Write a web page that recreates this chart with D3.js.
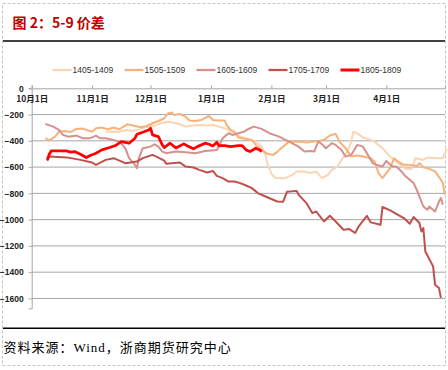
<!DOCTYPE html>
<html><head><meta charset="utf-8">
<script src="https://cdn.jsdelivr.net/npm/d3@7"></script>
<style>body{margin:0;background:#fff}svg{display:block}</style>
</head><body>
<script>
// ---- data ----
const title = "图 2：5-9 价差";
const source = "资料来源：Wind，浙商期货研究中心";
const seriesNames = ["1405-1409","1505-1509","1605-1609","1705-1709","1805-1809"];
const seriesColors = ["#fbd4b4","#f7b27c","#d8908d","#c0504d","#ff0000"];
const yTicks = [0,-200,-400,-600,-800,-1000,-1200,-1400,-1600];
const xTickDates = ["10-01","11-01","12-01","01-01","02-01","03-01","04-01"];
const xTickLabels = ["10月1日","11月1日","12月1日","1月1日","2月1日","3月1日","4月1日"];

const dates1405 = ["11-08","11-12","11-15","11-19","11-22","11-26","11-29","12-03","12-06","12-10","12-12","12-16","12-19","12-23","12-26","12-30","01-02","01-05","01-08","01-10","01-13","01-16","01-19","01-21","01-24","01-27","01-29","01-30","02-01","02-03","02-08","02-12","02-14","02-18","02-21","02-24","02-27","03-02","03-04","03-07","03-09","03-12","03-14","03-15","03-17","03-20","03-23","03-26","03-30","04-02","04-06","04-09","04-11","04-14","04-16","04-20","04-22","04-27","04-30","05-02"];
const vals1405 = [-330,-328,-330,-317,-325,-309,-292,-284,-266,-254,-258,-274,-292,-284,-279,-284,-279,-292,-304,-317,-342,-368,-378,-393,-406,-444,-507,-575,-651,-682,-684,-659,-634,-634,-646,-634,-684,-659,-621,-596,-545,-482,-406,-330,-342,-374,-388,-406,-456,-507,-558,-591,-615,-613,-532,-545,-527,-532,-532,-461];

const dates1505 = ["10-08","10-10","10-13","10-15","10-18","10-21","10-24","10-27","10-29","11-01","11-03","11-06","11-09","11-12","11-15","11-19","11-23","11-26","11-29","12-02","12-05","12-08","12-10","12-12","12-13","12-16","12-19","12-21","12-24","12-27","12-31","01-02","01-05","01-08","01-09","01-11","01-13","01-15","01-18","01-22","01-24","01-27","01-30","02-02","02-04","02-06","02-08","02-10","02-15","02-19","02-23","02-28","03-03","03-06","03-08","03-11","03-14","03-17","03-20","03-24","03-26","03-28","03-30","04-01","04-03","04-05","04-07","04-10","04-13","04-17","04-18","04-20","04-23","04-26","04-28","04-30","05-01"];
const vals1505 = [-380,-397,-368,-330,-325,-332,-309,-306,-317,-330,-304,-299,-313,-299,-312,-274,-287,-296,-287,-266,-249,-228,-190,-185,-203,-195,-218,-245,-249,-241,-211,-241,-246,-246,-279,-317,-330,-374,-385,-393,-431,-469,-499,-507,-484,-456,-431,-406,-406,-413,-406,-393,-359,-347,-408,-454,-520,-512,-520,-532,-560,-646,-684,-646,-608,-532,-558,-583,-583,-591,-570,-602,-613,-632,-674,-720,-811];

const dates1605 = ["10-08","10-12","10-15","10-17","10-20","10-24","10-27","10-31","11-03","11-05","11-08","11-12","11-15","11-18","11-20","11-23","11-24","11-25","11-27","12-01","12-03","12-05","12-07","12-09","12-14","12-19","12-24","12-29","01-04","01-05","01-07","01-10","01-12","01-15","01-18","01-21","01-23","01-27","01-31","02-05","02-10","02-15","02-18","02-21","02-23","02-25","02-27","03-01","03-04","03-06","03-09","03-11","03-14","03-17","03-20","03-22","03-25","03-27","03-30","04-01","04-04","04-06","04-08","04-11","04-15","04-17","04-19","04-20","04-22","04-23","04-26","04-28","04-29","04-30"];
const vals1605 = [-271,-292,-317,-355,-368,-360,-380,-380,-360,-380,-380,-393,-406,-456,-532,-583,-608,-532,-456,-444,-426,-444,-482,-494,-482,-486,-494,-477,-469,-444,-380,-342,-355,-342,-330,-304,-292,-309,-342,-368,-406,-444,-482,-477,-482,-406,-426,-456,-418,-431,-469,-520,-507,-431,-444,-494,-570,-583,-596,-553,-596,-596,-621,-672,-722,-786,-862,-900,-925,-900,-938,-862,-836,-887];

const dates1705 = ["10-09","10-10","10-19","10-26","11-01","11-03","11-08","11-12","11-18","11-24","11-27","12-02","12-04","12-08","12-09","12-16","12-19","12-23","12-26","12-30","01-02","01-04","01-07","01-10","01-13","01-16","01-19","01-22","01-25","01-29","02-04","02-07","02-09","02-14","02-15","02-19","02-22","02-24","02-28","03-03","03-06","03-10","03-13","03-16","03-18","03-22","03-24","03-29","03-30","04-03","04-07","04-10","04-13","04-15","04-18","04-19","04-20","04-21","04-25","04-26","04-28","04-29"];
const vals1705 = [-553,-520,-526,-545,-565,-583,-545,-532,-570,-558,-532,-507,-520,-550,-575,-565,-596,-603,-621,-641,-629,-667,-684,-710,-710,-722,-740,-760,-798,-824,-862,-864,-788,-781,-811,-874,-950,-938,-1014,-971,-1014,-1077,-1072,-1102,-1047,-971,-1021,-1039,-904,-930,-963,-988,-1031,-980,-1026,-1090,-1064,-1242,-1356,-1495,-1520,-1596];

const dates1805 = ["10-09","10-10","10-11","10-19","10-21","10-23","10-26","10-29","10-31","11-03","11-06","11-10","11-13","11-16","11-20","11-23","11-24","11-27","11-30","12-01","12-02","12-05","12-07","12-08","12-11","12-14","12-18","12-20","12-23","12-25","12-29","12-31","01-02","01-04","01-05","01-08","01-11","01-15","01-17","01-19","01-21","01-24","01-26","01-27"];
const vals1805 = [-545,-502,-477,-477,-486,-482,-502,-527,-512,-494,-469,-451,-436,-406,-418,-380,-350,-334,-317,-304,-355,-368,-431,-451,-418,-454,-423,-439,-461,-444,-418,-426,-439,-410,-436,-436,-444,-436,-436,-469,-482,-456,-469,-482];

// ---- build ----
const W = 448, H = 370;
const parseMD = s => { const [m,d] = s.split("-").map(Number); return new Date(Date.UTC(m >= 10 ? 2017 : 2018, m-1, d)); };
const series = [
  {name: seriesNames[0], dates: dates1405, vals: vals1405, color: seriesColors[0], w: 2},
  {name: seriesNames[1], dates: dates1505, vals: vals1505, color: seriesColors[1], w: 2},
  {name: seriesNames[2], dates: dates1605, vals: vals1605, color: seriesColors[2], w: 2},
  {name: seriesNames[3], dates: dates1705, vals: vals1705, color: seriesColors[3], w: 2},
  {name: seriesNames[4], dates: dates1805, vals: vals1805, color: seriesColors[4], w: 2.75}
];

const svg = d3.select("body").append("svg").attr("width", W).attr("height", H);
svg.append("rect").attr("width", W).attr("height", H).attr("fill", "#fff");
svg.append("rect").attr("x", 2.5).attr("y", 3.5).attr("width", 443).attr("height", 362)
  .attr("fill", "none").attr("stroke", "#c4c4c4").attr("stroke-dasharray", "3,2");

svg.append("text").attr("x", 12.5).attr("y", 27.5).text(title)
  .attr("font-family", "'Noto Sans CJK SC', sans-serif").attr("font-weight", "bold")
  .attr("font-size", 14).attr("fill", "#c00000");
svg.append("line").attr("x1", 3).attr("x2", 445).attr("y1", 41).attr("y2", 41)
  .attr("stroke", "#000").attr("stroke-width", 1.5);
svg.append("line").attr("x1", 3).attr("x2", 445).attr("y1", 328.3).attr("y2", 328.3)
  .attr("stroke", "#000").attr("stroke-width", 1.5);
svg.append("text").attr("x", 3.5).attr("y", 351.5).text(source)
  .attr("font-family", "'Liberation Serif', 'Noto Sans CJK SC', serif")
  .attr("font-size", 13).attr("letter-spacing", 1).attr("fill", "#000");

const x0 = 31.7, x1 = 445;
const dStart = parseMD("10-01");
const dEnd = new Date(dStart.getTime() + 212.1 * 864e5);
const x = d3.scaleUtc().domain([dStart, dEnd]).range([x0, x1]);
const y = d3.scaleLinear().domain([-1675, 0]).range([308.3, 88.3]);

// gridlines
svg.append("g").selectAll("line").data(yTicks.filter(v => v !== 0)).join("line")
  .attr("x1", x0).attr("x2", x1).attr("y1", d => y(d)).attr("y2", d => y(d))
  .attr("stroke", "#a6a6a6").attr("stroke-width", 1);

// y axis
const yAxis = d3.axisLeft(y).tickValues(yTicks).tickSize(3).tickFormat(d3.format("d"));
const gy = svg.append("g").attr("transform", `translate(${x0},0)`).call(yAxis);
gy.select(".domain").attr("stroke", "#a6a6a6");
gy.selectAll(".tick line").attr("stroke", "#a6a6a6");
gy.selectAll(".tick text").attr("x", -8).attr("font-family", "'Liberation Sans', Arial, sans-serif")
  .attr("font-weight", "bold").attr("font-size", 8.5).attr("fill", "#222");

// x axis at top (value 0), ticks upward, labels below
const xAxis = d3.axisTop(x).tickValues(xTickDates.map(parseMD)).tickSize(3)
  .tickFormat((d, i) => xTickLabels[i]);
const gx = svg.append("g").attr("transform", `translate(0,${y(0)})`).call(xAxis);
gx.select(".domain").attr("stroke", "#a6a6a6");
gx.selectAll(".tick line").attr("stroke", "#a6a6a6");
gx.selectAll(".tick text").attr("y", 14.2).attr("dy", 0)
  .attr("font-family", "'Noto Sans CJK SC', sans-serif").attr("font-weight", "bold")
  .attr("font-size", 8.5).attr("fill", "#222");

// lines
const line = d3.line().x(d => x(d[0])).y(d => y(d[1]));
svg.append("g").selectAll("path").data(series).join("path")
  .attr("d", s => line(s.dates.map((dt, i) => [parseMD(dt), s.vals[i]])))
  .attr("fill", "none").attr("stroke", s => s.color).attr("stroke-width", s => s.w)
  .attr("stroke-linejoin", "round");

// legend
const lg = svg.append("g").selectAll("g").data(series).join("g")
  .attr("transform", (s, i) => `translate(${52.5 + 72 * i},70)`);
lg.append("line").attr("x1", 0).attr("x2", 19).attr("stroke", s => s.color)
  .attr("stroke-width", s => s.w + 0.25);
lg.append("text").attr("x", 20).attr("dy", "0.35em").text(s => s.name)
  .attr("font-family", "'Liberation Sans', Arial, sans-serif").attr("font-size", 8.5)
  .attr("fill", "#333");
</script>
</body></html>
